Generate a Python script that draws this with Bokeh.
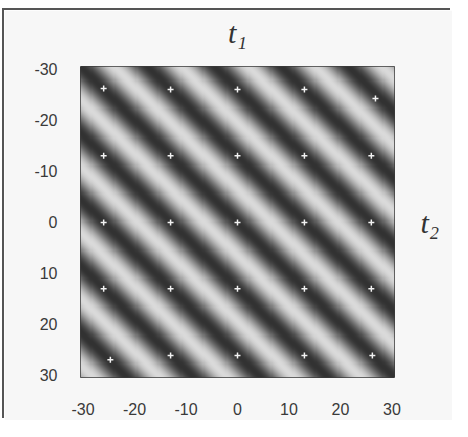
import numpy as np
from bokeh.plotting import figure
from bokeh.models import Range1d, LinearColorMapper, LinearAxis, FixedTicker, PrintfTickFormatter
from bokeh.embed import file_html
from bokeh.resources import INLINE

# ---- data ----
tick_values = [-30, -20, -10, 0, 10, 20, 30]
stripe_period = 13.0          # period of the stripes along t1 and along t2
grid_t1 = [-26.0, -13.0, 0.0, 13.0, 26.8,
           -26.0, -13.0, 0.0, 13.0, 26.0,
           -26.0, -13.0, 0.0, 13.0, 26.0,
           -26.0, -13.0, 0.0, 13.0, 26.0,
           -24.7, -13.0, 0.0, 13.0, 26.2]
grid_t2 = [-26.2, -26.0, -26.0, -26.0, -24.2,
           -13.0, -13.0, -13.0, -13.0, -13.0,
           0.1, 0.1, 0.1, 0.1, 0.1,
           13.1, 13.1, 13.1, 13.1, 13.1,
           27.0, 26.2, 26.2, 26.2, 26.2]

# ---- field ----
lo, hi = -30.5, 30.5
n = 300
t = lo + (np.arange(n) + 0.5) * (hi - lo) / n
T1, T2 = np.meshgrid(t, t)
field = -np.cos(2 * np.pi * (T1 - T2) / stripe_period)

palette = ["#%02x%02x%02x" % (v, v, v) for v in np.linspace(50, 218, 256).astype(int)]
mapper = LinearColorMapper(palette=palette, low=-1, high=1)

W, H = 448, 410
ML, MR, MT, MB = 76, 58, 56, 43
p = figure(width=W, height=H, x_range=Range1d(lo, hi), y_range=Range1d(hi, lo),
           output_backend="svg", toolbar_location=None,
           min_border_left=ML, min_border_right=MR, min_border_top=MT, min_border_bottom=MB)
p.title.visible = False
p.background_fill_color = "#f7f7f7"
p.border_fill_color = "#f7f7f7"
p.outline_line_color = "#3a3a3a"
p.outline_line_width = 1
p.grid.visible = False

p.image(image=[field], x=lo, y=lo, dw=hi - lo, dh=hi - lo, color_mapper=mapper)
p.scatter(grid_t1, grid_t2, marker="cross", size=6, line_color="#f2f2f2", line_width=1.5)

for ax in (p.xaxis[0], p.yaxis[0]):
    ax.ticker = FixedTicker(ticks=tick_values)
    ax.formatter = PrintfTickFormatter(format="%d")
    ax.axis_line_color = None
    ax.major_tick_line_color = None
    ax.minor_tick_line_color = None
    ax.major_label_text_font = "Liberation Sans"
    ax.major_label_text_font_size = "16px"
    ax.major_label_text_color = "#3a3a3a"
p.xaxis.major_label_standoff = 19
p.yaxis.major_label_standoff = 17

def name_axis(label, side, standoff, orientation="parallel"):
    ax = LinearAxis(axis_label=label, ticker=FixedTicker(ticks=[]),
                    axis_line_color=None, major_tick_line_color=None, minor_tick_line_color=None,
                    major_label_text_font_size="0px",
                    axis_label_text_font="Liberation Serif", axis_label_text_font_style="italic",
                    axis_label_text_font_size="30px", axis_label_text_color="#333333",
                    axis_label_standoff=standoff, axis_label_orientation=orientation)
    p.add_layout(ax, side)

name_axis("t\u2081", "above", 18)
name_axis("t\u2082", "right", 26, "horizontal")

# page frame lines on the left and top only (drawn as an offset shadow)
p.styles = {"box-shadow": "-2px -2px 0 0 #555555", "margin-left": "4px", "margin-top": "10px"}

open("out.html", "w").write(file_html(p, INLINE))
